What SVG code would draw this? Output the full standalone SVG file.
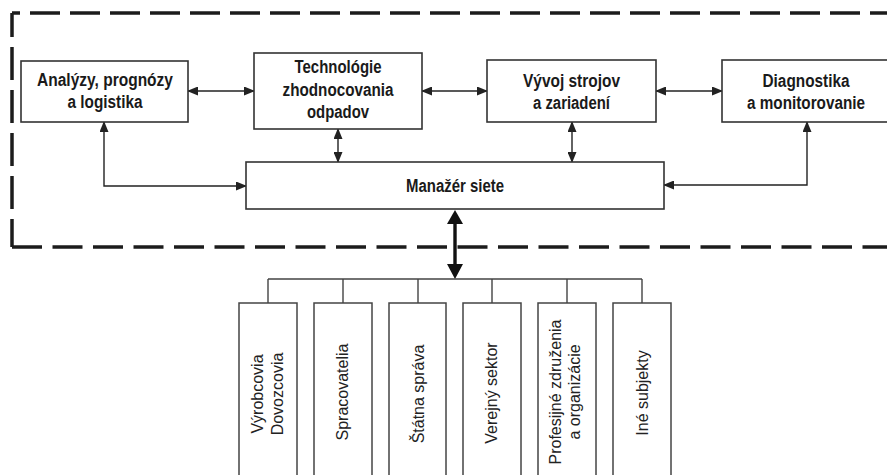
<svg xmlns="http://www.w3.org/2000/svg" width="887" height="475" viewBox="0 0 887 475">
  <style>
    .frame { fill: none; stroke: #1c1c1c; stroke-width: 3.5; }
    .box { fill: #ffffff; stroke: #333333; stroke-width: 1.6; }
    .sub { fill: #ffffff; stroke: #444444; stroke-width: 1.5; }
    .lbl { font-family: "Liberation Sans", Arial, sans-serif; font-weight: bold; font-size: 17.5px; fill: #1a1a1a; text-anchor: middle; }
    .vlbl { font-family: "Liberation Sans", Arial, sans-serif; font-size: 16px; fill: #222222; text-anchor: middle; }
    .link { fill: none; stroke: #222222; stroke-width: 1.4; marker-start: url(#tip); marker-end: url(#tip); }
    .bus { fill: none; stroke: #444444; stroke-width: 1.4; }
  </style>
  <defs>
    <marker id="tip" markerUnits="userSpaceOnUse" markerWidth="11" markerHeight="9" refX="10" refY="4.5" orient="auto-start-reverse" viewBox="0 0 11 9">
      <path d="M0,0 L11,4.5 L0,9 z" fill="#222222"/>
    </marker>
  </defs>

  <rect width="887" height="475" fill="#ffffff"/>

  <!-- dashed network boundary -->
  <g id="boundary">
    <path class="frame" d="M12,13 H892" stroke-dasharray="30 10" stroke-dashoffset="22"/>
    <path class="frame" d="M12,13 V247" stroke-dasharray="33 10" stroke-dashoffset="9"/>
    <path class="frame" d="M12,247 H892" stroke-dasharray="30 10.5"/>
  </g>

  <!-- connectors -->
  <g id="connectors">
    <path class="link" d="M188,91 H254"/>
    <path class="link" d="M422,91 H487"/>
    <path class="link" d="M656,91 H722"/>
    <path class="link" d="M104,122 V186 H246"/>
    <path class="link" d="M338,129 V162"/>
    <path class="link" d="M572,122 V162"/>
    <path class="link" d="M807,122 V185 H664"/>
    <!-- heavy two-way link to the stakeholder bus -->
    <line x1="455" y1="222" x2="455" y2="266" stroke="#111111" stroke-width="3.4"/>
    <polygon points="455,210 463,224 447,224" fill="#111111"/>
    <polygon points="455,279 463,264 447,264" fill="#111111"/>
    <!-- stakeholder bus -->
    <path class="bus" d="M268,279 H642 M268,279 V303 M343,279 V303 M418,279 V303 M492,279 V303 M567,279 V303 M642,279 V303"/>
  </g>

  <g id="analyzy">
    <rect class="box" x="21" y="61" width="167" height="61"/>
    <text class="lbl" x="105" y="86" textLength="136" lengthAdjust="spacingAndGlyphs">Analýzy, prognózy</text>
    <text class="lbl" x="105" y="108" textLength="75" lengthAdjust="spacingAndGlyphs">a logistika</text>
  </g>

  <g id="technologie">
    <rect class="box" x="254" y="53" width="168" height="76"/>
    <text class="lbl" x="338" y="73" textLength="87" lengthAdjust="spacingAndGlyphs">Technológie</text>
    <text class="lbl" x="338" y="96" textLength="111" lengthAdjust="spacingAndGlyphs">zhodnocovania</text>
    <text class="lbl" x="338" y="118" textLength="62" lengthAdjust="spacingAndGlyphs">odpadov</text>
  </g>

  <g id="vyvoj">
    <rect class="box" x="487" y="60" width="169" height="62"/>
    <text class="lbl" x="571.5" y="87" textLength="97" lengthAdjust="spacingAndGlyphs">Vývoj strojov</text>
    <text class="lbl" x="571.5" y="109" textLength="77" lengthAdjust="spacingAndGlyphs">a zariadení</text>
  </g>

  <g id="diagnostika">
    <rect class="box" x="722" y="60" width="170" height="62"/>
    <text class="lbl" x="806" y="87" textLength="87" lengthAdjust="spacingAndGlyphs">Diagnostika</text>
    <text class="lbl" x="806" y="109" textLength="118" lengthAdjust="spacingAndGlyphs">a monitorovanie</text>
  </g>

  <g id="manazer">
    <rect class="box" x="246" y="162" width="418" height="47"/>
    <text class="lbl" x="455" y="192" textLength="98" lengthAdjust="spacingAndGlyphs">Manažér siete</text>
  </g>

  <!-- stakeholder columns, open at the bottom edge -->
  <g id="vyrobcovia">
    <rect class="sub" x="239" y="303" width="58" height="190"/>
    <text class="vlbl" transform="translate(263,394) rotate(-90)">Výrobcovia</text>
    <text class="vlbl" transform="translate(283,394) rotate(-90)">Dovozcovia</text>
  </g>
  <g id="spracovatelia">
    <rect class="sub" x="314" y="303" width="58" height="190"/>
    <text class="vlbl" transform="translate(348,392) rotate(-90)">Spracovatelia</text>
  </g>
  <g id="statna-sprava">
    <rect class="sub" x="389" y="303" width="57" height="190"/>
    <text class="vlbl" transform="translate(424,394) rotate(-90)">Štátna správa</text>
  </g>
  <g id="verejny-sektor">
    <rect class="sub" x="463" y="303" width="58" height="190"/>
    <text class="vlbl" transform="translate(497,393) rotate(-90)">Verejný sektor</text>
  </g>
  <g id="profesijne">
    <rect class="sub" x="538" y="303" width="58" height="190"/>
    <text class="vlbl" transform="translate(561,392) rotate(-90)">Profesijné združenia</text>
    <text class="vlbl" transform="translate(580,392) rotate(-90)">a organizácie</text>
  </g>
  <g id="ine-subjekty">
    <rect class="sub" x="613" y="303" width="58" height="190"/>
    <text class="vlbl" transform="translate(648,393) rotate(-90)">Iné subjekty</text>
  </g>
</svg>
